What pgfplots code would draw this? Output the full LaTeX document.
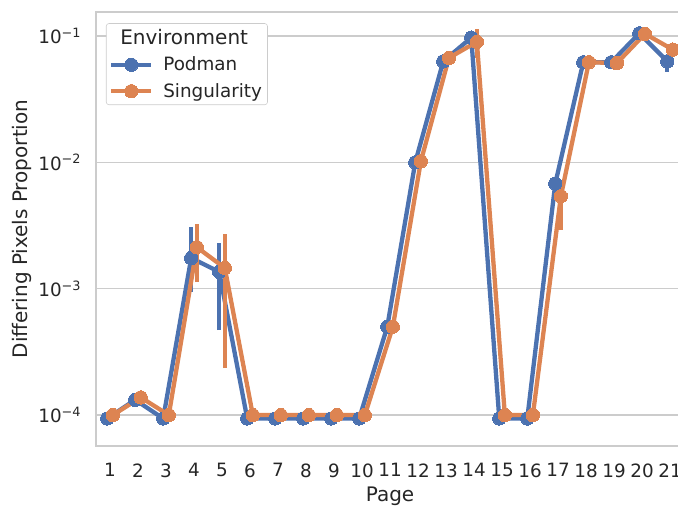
\documentclass[border=0pt]{standalone}
\usepackage{pgfplots}
\pgfplotsset{compat=1.18}
\usepackage{fontspec}
\setmainfont{DejaVu Sans}
\definecolor{sbblue}{HTML}{4C72B0}
\definecolor{sborange}{HTML}{DD8452}
\definecolor{sbgrid}{HTML}{CCCCCC}
\definecolor{sbtext}{HTML}{262626}
\begin{document}
\begin{tikzpicture}
\begin{axis}[
  at={(0,0)}, anchor=south west,
  scale only axis, width=423.4pt, height=312.5pt,
  ymode=log, ymin=5.69e-5, ymax=0.155,
  xmin=-0.5, xmax=20.5,
  xtick={0,...,20},
  xticklabels={1,2,3,4,5,6,7,8,9,10,11,12,13,14,15,16,17,18,19,20,21},
  ytick={1e-4,1e-3,1e-2,1e-1},
  yticklabels={10\textsuperscript{−4},10\textsuperscript{−3},10\textsuperscript{−2},10\textsuperscript{−1}},
  major tick length=0pt, minor tick length=0pt,
  ymajorgrids,
  grid style={sbgrid, line width=0.9pt},
  axis line style={sbgrid, line width=1.4pt},
  tick label style={font=\fontsize{13.2}{15}\selectfont, text=sbtext},
  xticklabel style={yshift=-9pt},
  yticklabel style={xshift=-7pt},
  label style={font=\fontsize{14.4}{17}\selectfont, text=sbtext},
  xlabel={Page},
  ylabel={Differing Pixels Proportion},
  xlabel style={yshift=0pt},
  ylabel style={yshift=-2pt},
  clip=false,
  legend cell align=left,
  legend style={at={(0.017,0.974)}, anchor=north west, draw=sbgrid, fill=white,
    rounded corners=2pt, font=\fontsize{13.2}{15}\selectfont, text=sbtext,
    inner xsep=2pt, inner ysep=2pt, row sep=3.5pt, column sep=5pt},
  legend image code/.code={\draw[mark repeat=2,mark phase=2,#1] plot coordinates {(0pt,0pt) (14.5pt,0pt) (29pt,0pt)};},
]
\addlegendimage{empty legend}
\addlegendentry{\hspace*{-31pt}\fontsize{14.4}{17}\selectfont Environment}
% Podman
\addplot[sbblue, line width=3.1pt, mark=*, mark size=4.8pt, mark options={solid, line width=0pt}] coordinates {
(-0.1,9.4e-5) (0.9,1.32e-4) (1.9,9.4e-5) (2.9,1.75e-3) (3.9,1.36e-3)
(4.9,9.4e-5) (5.9,9.4e-5) (6.9,9.4e-5) (7.9,9.4e-5) (8.9,9.4e-5)
(9.9,5.0e-4) (10.9,1.0e-2) (11.9,6.3e-2) (12.9,9.7e-2) (13.9,9.4e-5)
(14.9,9.4e-5) (15.9,6.8e-3) (16.9,6.2e-2) (17.9,6.2e-2) (18.9,1.05e-1) (19.9,6.3e-2)};
\addlegendentry{Podman}
\addplot[forget plot, sbblue, line width=3.1pt] coordinates {(2.9,9.4e-4) (2.9,3.08e-3)};
\addplot[forget plot, sbblue, line width=3.1pt] coordinates {(3.9,4.7e-4) (3.9,2.3e-3)};
\addplot[forget plot, sbblue, line width=3.1pt] coordinates {(19.9,5.2e-2) (19.9,7.0e-2)};
\addplot[forget plot, sbblue, line width=3.1pt] coordinates {(-0.1,8.3e-5) (-0.1,1.0e-4)};
\addplot[forget plot, sbblue, line width=3.1pt] coordinates {(1.9,8.3e-5) (1.9,1.0e-4)};
\addplot[forget plot, sbblue, line width=3.1pt] coordinates {(4.9,8.3e-5) (4.9,1.0e-4)};
\addplot[forget plot, sbblue, line width=3.1pt] coordinates {(5.9,8.3e-5) (5.9,1.0e-4)};
\addplot[forget plot, sbblue, line width=3.1pt] coordinates {(6.9,8.3e-5) (6.9,1.0e-4)};
\addplot[forget plot, sbblue, line width=3.1pt] coordinates {(7.9,8.3e-5) (7.9,1.0e-4)};
\addplot[forget plot, sbblue, line width=3.1pt] coordinates {(8.9,8.3e-5) (8.9,1.0e-4)};
\addplot[forget plot, sbblue, line width=3.1pt] coordinates {(13.9,8.3e-5) (13.9,1.0e-4)};
\addplot[forget plot, sbblue, line width=3.1pt] coordinates {(14.9,8.3e-5) (14.9,1.0e-4)};
% Singularity
\addplot[sborange, line width=3.1pt, mark=*, mark size=4.8pt, mark options={solid, line width=0pt}] coordinates {
(0.1,1.0e-4) (1.1,1.38e-4) (2.1,1.0e-4) (3.1,2.13e-3) (4.1,1.46e-3)
(5.1,1.0e-4) (6.1,1.0e-4) (7.1,1.0e-4) (8.1,1.0e-4) (9.1,1.0e-4)
(10.1,5.0e-4) (11.1,1.02e-2) (12.1,6.7e-2) (13.1,9.0e-2) (14.1,1.0e-4)
(15.1,1.0e-4) (16.1,5.4e-3) (17.1,6.2e-2) (18.1,6.1e-2) (19.1,1.04e-1) (20.1,7.8e-2)};
\addlegendentry{Singularity}
\addplot[forget plot, sborange, line width=3.1pt] coordinates {(3.1,1.13e-3) (3.1,3.24e-3)};
\addplot[forget plot, sborange, line width=3.1pt] coordinates {(4.1,2.35e-4) (4.1,2.7e-3)};
\addplot[forget plot, sborange, line width=3.1pt] coordinates {(13.1,6.7e-2) (13.1,1.13e-1)};
\addplot[forget plot, sborange, line width=3.1pt] coordinates {(16.1,2.9e-3) (16.1,7.0e-3)};
\end{axis}
\pgfresetboundingbox
\path[use as bounding box] (-69.1pt,-42.5pt) rectangle (419pt,321.1pt);
\end{tikzpicture}
\end{document}
